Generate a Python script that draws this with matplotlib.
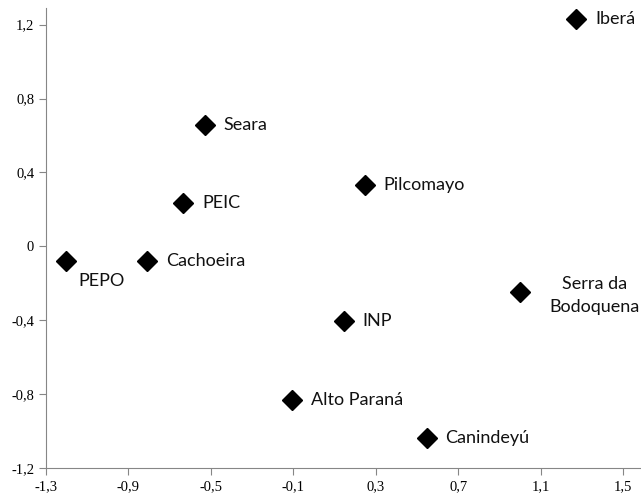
import matplotlib.pyplot as plt

# site scores
sites = ["Iberá", "Seara", "PEIC", "Pilcomayo", "PEPO", "Cachoeira",
         "Serra da\nBodoquena", "INP", "Alto Paraná", "Canindeyú"]
x = [1.273, -0.530, -0.636, 0.246, -1.203, -0.811, 1.001, 0.144, -0.108, 0.546]
y = [1.232, 0.657, 0.233, 0.331, -0.081, -0.081, -0.250, -0.402, -0.831, -1.037]

xticks = [-1.3, -0.9, -0.5, -0.1, 0.3, 0.7, 1.1, 1.5]
yticks = [-1.2, -0.8, -0.4, 0, 0.4, 0.8, 1.2]

fig = plt.figure(figsize=(6.41, 4.97), dpi=100)
ax = fig.add_axes([46 / 641, 29 / 497, 595 / 641, 460 / 497])

ax.plot(x, y, linestyle="none", marker="D", markersize=10.5, color="black")

# label placement (pixel offsets from the marker)
for name, xi, yi in zip(sites, x, y):
    dx, dy, ha = 19, 0, "left"
    if name == "PEPO":
        dx, dy = 12, -20
    elif name.startswith("Serra"):
        dx, dy, ha = 74, -3, "center"
    ax.annotate(name, (xi, yi), xytext=(dx, dy), textcoords="offset pixels",
                ha=ha, va="center", fontsize=13, family="Lato",
                color="#111111", linespacing=1.55)

ax.set_xlim(-1.3, 1.586)
ax.set_ylim(-1.2, 1.29)
ax.set_xticks(xticks)
ax.set_yticks(yticks)
ax.set_xticklabels([f"{v:g}".replace(".", ",") for v in xticks])
ax.set_yticklabels([f"{v:g}".replace(".", ",") for v in yticks])

for s in ["top", "right"]:
    ax.spines[s].set_visible(False)
for s in ["left", "bottom"]:
    ax.spines[s].set_color("#868686")
ax.tick_params(direction="out", length=5, color="#868686")
for lbl in ax.get_xticklabels() + ax.get_yticklabels():
    lbl.set_family("Liberation Serif")
    lbl.set_fontsize(10.5)

fig.savefig("out.png")
